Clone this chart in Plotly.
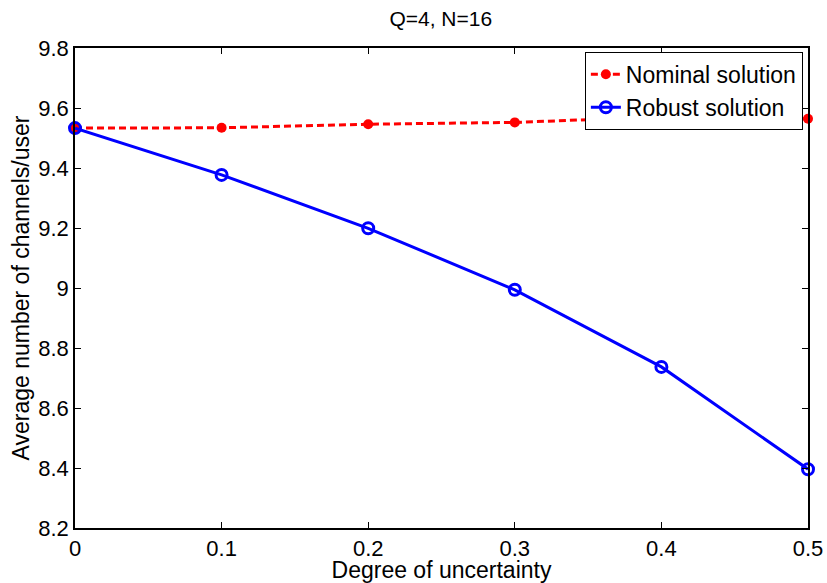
import plotly.graph_objects as go

x_vals = [0, 0.1, 0.2, 0.3, 0.4, 0.5]
nominal = [9.533, 9.534, 9.546, 9.552, 9.570, 9.564]
robust = [9.533, 9.377, 9.199, 8.994, 8.737, 8.396]
x_ticks = [0, 0.1, 0.2, 0.3, 0.4, 0.5]
x_tick_labels = ["0", "0.1", "0.2", "0.3", "0.4", "0.5"]
y_ticks = [8.2, 8.4, 8.6, 8.8, 9.0, 9.2, 9.4, 9.6, 9.8]
y_tick_labels = ["8.2", "8.4", "8.6", "8.8", "9", "9.2", "9.4", "9.6", "9.8"]

fig = go.Figure()
fig.add_trace(go.Scatter(
    x=x_vals, y=nominal, mode="lines+markers", name="Nominal solution",
    line=dict(color="#ff0000", width=3, dash="7px,4px"),
    marker=dict(symbol="circle", size=10, color="#ff0000"),
    cliponaxis=False,
))
fig.add_trace(go.Scatter(
    x=x_vals, y=robust, mode="lines+markers", name="Robust solution",
    line=dict(color="#0000ff", width=3),
    marker=dict(symbol="circle-open", size=11, color="#0000ff", line=dict(width=3)),
    cliponaxis=False,
))

font = "Liberation Sans, Arial, sans-serif"
fig.update_layout(
    width=827, height=583,
    margin=dict(l=75, r=19, t=48, b=55),
    paper_bgcolor="white", plot_bgcolor="white",
    font=dict(family=font, color="black"),
    title=dict(text="Q=4, N=16", x=0.533, xanchor="center", y=0.968, yanchor="middle",
               font=dict(size=21)),
    showlegend=True,
    legend=dict(x=0.993, y=0.992, xanchor="right", yanchor="top",
                bordercolor="black", borderwidth=1, bgcolor="white",
                font=dict(size=23), tracegroupgap=0, itemwidth=30),
)
fig.update_xaxes(
    range=[0, 0.5], tickvals=x_ticks, ticktext=x_tick_labels,
    ticks="inside", ticklen=6, tickcolor="black", mirror="ticks",
    showline=True, linecolor="black", linewidth=1.5, showgrid=False, zeroline=False,
    tickfont=dict(size=22), automargin=False,
    title=dict(text="Degree of uncertainty", font=dict(size=23), standoff=0),
)
fig.update_yaxes(
    range=[8.2, 9.8], tickvals=y_ticks, ticktext=y_tick_labels,
    ticks="inside", ticklen=6, tickcolor="black", mirror="ticks",
    showline=True, linecolor="black", linewidth=1.5, showgrid=False, zeroline=False,
    tickfont=dict(size=22), automargin=False,
    title=dict(text="Average number of channels/user", font=dict(size=23), standoff=2),
)
fig.write_html("out.html")
